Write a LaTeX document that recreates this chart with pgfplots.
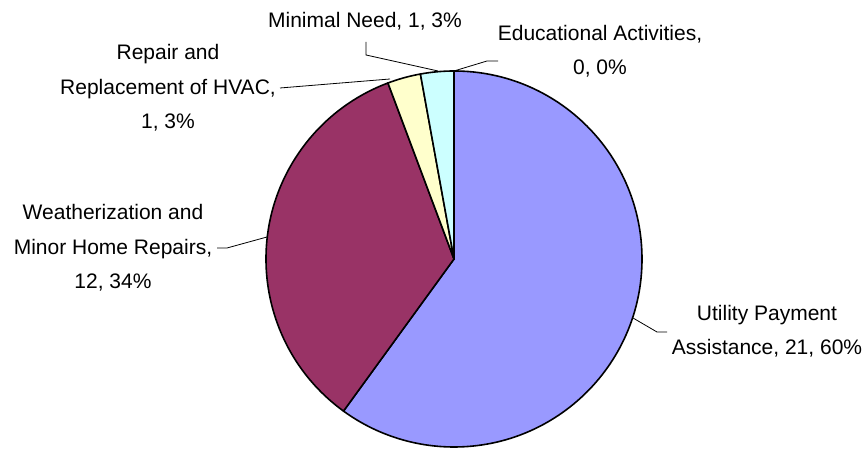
\documentclass[border=0pt]{standalone}
\usepackage{pgfplots}
\pgfplotsset{compat=1.18}
\usepackage{pgfplotstable}
\usepackage{fontspec}
\setmainfont{Liberation Sans}

\definecolor{utility}{HTML}{9999FF}
\definecolor{weather}{HTML}{993366}
\definecolor{hvac}{HTML}{FFFFCC}
\definecolor{minimal}{HTML}{CCFFFF}
\definecolor{educ}{HTML}{FFFF99}

% slice values, clockwise from 12 o'clock
\pgfplotstableread{
name value
Utility 21
Weather 12
HVAC 1
Minimal 1
Educational 0
}\piedata

\pgfplotstablegetelem{0}{value}\of\piedata\edef\vA{\pgfplotsretval}
\pgfplotstablegetelem{1}{value}\of\piedata\edef\vB{\pgfplotsretval}
\pgfplotstablegetelem{2}{value}\of\piedata\edef\vC{\pgfplotsretval}
\pgfplotstablegetelem{3}{value}\of\piedata\edef\vD{\pgfplotsretval}
\pgfplotstablegetelem{4}{value}\of\piedata\edef\vE{\pgfplotsretval}
\pgfmathsetmacro\tot{\vA+\vB+\vC+\vD+\vE}
\pgfmathsetmacro\aA{90}
\pgfmathsetmacro\aB{\aA-360*\vA/\tot}
\pgfmathsetmacro\aC{\aB-360*\vB/\tot}
\pgfmathsetmacro\aD{\aC-360*\vC/\tot}
\pgfmathsetmacro\aE{\aD-360*\vD/\tot}
\pgfmathsetmacro\aF{\aE-360*\vE/\tot}
\newcommand\slice[3]{\filldraw[fill=#3,draw=black,line width=1.6pt,line join=round]
  (axis cs:454,190) -- ++(#1:188pt) arc[start angle=#1,end angle=#2,radius=188pt] -- cycle;}

% anchor=base on a multi-line node sits on the last line
\tikzset{lbl/.style={anchor=base, align=center, font=\fontsize{21}{34.5}\selectfont}}

\begin{document}
\begin{tikzpicture}
\begin{axis}[
    width=863pt, height=449pt, scale only axis,
    xmin=0, xmax=863, ymin=0, ymax=449,
    hide axis, clip=false,
  ]
  \coordinate (ll) at (axis cs:0,0);
  \coordinate (ur) at (axis cs:863,449);
  \slice{\aA}{\aB}{utility}
  \slice{\aB}{\aC}{weather}
  \slice{\aC}{\aD}{hvac}
  \slice{\aD}{\aE}{minimal}
  \slice{\aE}{\aF}{educ}

  % leader lines
  \draw[line width=0.8pt] (axis cs:366,407) -- (axis cs:366,394) -- (axis cs:438,378);
  \draw[line width=0.8pt] (axis cs:498,388) -- (axis cs:487,388) -- (axis cs:454,378);
  \draw[line width=0.8pt] (axis cs:280,361) -- (axis cs:390,370);
  \draw[line width=0.8pt] (axis cs:217,201) -- (axis cs:227,201) -- (axis cs:267,212);
  \draw[line width=0.8pt] (axis cs:633,131) -- (axis cs:657,117) -- (axis cs:667,117);

  \node[lbl] at (axis cs:365,421) {Minimal Need, 1, 3\%};
  \node[lbl] at (axis cs:600,374) {Educational Activities,\\0, 0\%};
  \node[lbl] at (axis cs:168,320) {Repair and\\Replacement of HVAC,\\1, 3\%};
  \node[lbl] at (axis cs:113,160) {Weatherization and\\Minor Home Repairs,\\12, 34\%};
  \node[lbl] at (axis cs:767,94) {Utility Payment\\Assistance, 21, 60\%};
\end{axis}
\pgfresetboundingbox
\useasboundingbox (ll) rectangle (ur);
\end{tikzpicture}
\end{document}
